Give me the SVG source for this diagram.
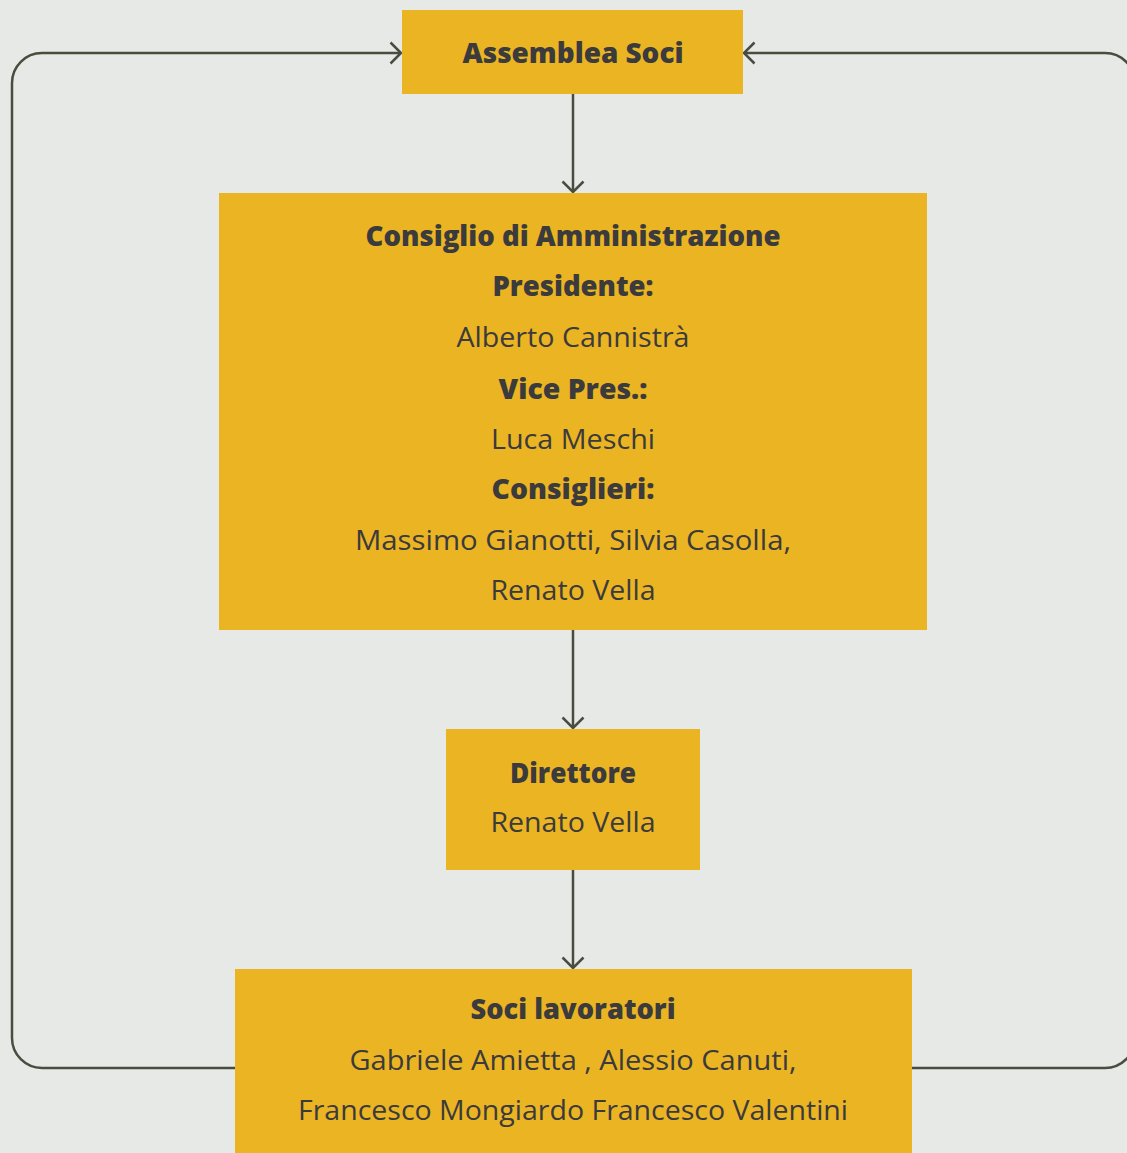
<svg xmlns="http://www.w3.org/2000/svg" width="1127" height="1153" viewBox="0 0 1127 1153">
<style>
.box{fill:#eab423}
.conn{fill:none;stroke:#474e3f;stroke-width:2.5}
.t{font-family:"Open Sans","Noto Sans","Liberation Sans",sans-serif;fill:#3b3a3c;text-anchor:middle;font-size:28px}
.b{font-weight:800;font-size:28px}
</style>
<defs>
<marker id="arr" markerUnits="userSpaceOnUse" markerWidth="24" markerHeight="24" viewBox="-12 -12 24 24" refX="0" refY="0" orient="auto">
<path d="M-10.5,-10.5 L0,0 L-10.5,10.5" fill="none" stroke="#474e3f" stroke-width="2.5"/>
</marker>
</defs>
<rect width="1127" height="1153" fill="#e7e9e6"/>
<g id="connectors">
<line class="conn" x1="573" y1="94" x2="573" y2="192" marker-end="url(#arr)"/>
<line class="conn" x1="573" y1="630" x2="573" y2="728" marker-end="url(#arr)"/>
<line class="conn" x1="573" y1="870" x2="573" y2="968" marker-end="url(#arr)"/>
<path class="conn" d="M235,1068 H42 A30,30 0 0 1 12,1038 V83 A30,30 0 0 1 42,53 H401" marker-end="url(#arr)"/>
<path class="conn" d="M912,1068 H1105 A30,30 0 0 0 1135,1038 V83 A30,30 0 0 0 1105,53 H744" marker-end="url(#arr)"/>
</g>
<g id="assemblea">
<rect class="box" x="402" y="10" width="341" height="84"/>
<text class="t b" x="573" y="63" textLength="221" lengthAdjust="spacingAndGlyphs">Assemblea Soci</text>
</g>
<g id="consiglio">
<rect class="box" x="219" y="193" width="708" height="437"/>
<text class="t b" x="573" y="246" textLength="415" lengthAdjust="spacingAndGlyphs">Consiglio di Amministrazione</text>
<text class="t b" x="573" y="296" textLength="161" lengthAdjust="spacingAndGlyphs">Presidente:</text>
<text class="t" x="573" y="347" textLength="233" lengthAdjust="spacingAndGlyphs">Alberto Cannistrà</text>
<text class="t b" x="573" y="399" textLength="149" lengthAdjust="spacingAndGlyphs">Vice Pres.:</text>
<text class="t" x="573" y="449" textLength="164" lengthAdjust="spacingAndGlyphs">Luca Meschi</text>
<text class="t b" x="573" y="499" textLength="163" lengthAdjust="spacingAndGlyphs">Consiglieri:</text>
<text class="t" x="573" y="550" textLength="436" lengthAdjust="spacingAndGlyphs">Massimo Gianotti, Silvia Casolla,</text>
<text class="t" x="573" y="600" textLength="165" lengthAdjust="spacingAndGlyphs">Renato Vella</text>
</g>
<g id="direttore">
<rect class="box" x="446" y="729" width="254" height="141"/>
<text class="t b" x="573" y="783" textLength="126" lengthAdjust="spacingAndGlyphs">Direttore</text>
<text class="t" x="573" y="832" textLength="165" lengthAdjust="spacingAndGlyphs">Renato Vella</text>
</g>
<g id="soci">
<rect class="box" x="235" y="969" width="677" height="184"/>
<text class="t b" x="573" y="1019" textLength="205" lengthAdjust="spacingAndGlyphs">Soci lavoratori</text>
<text class="t" x="573" y="1070" textLength="447" lengthAdjust="spacingAndGlyphs">Gabriele Amietta , Alessio Canuti,</text>
<text class="t" x="573" y="1120" textLength="550" lengthAdjust="spacingAndGlyphs">Francesco Mongiardo Francesco Valentini</text>
</g>
</svg>
